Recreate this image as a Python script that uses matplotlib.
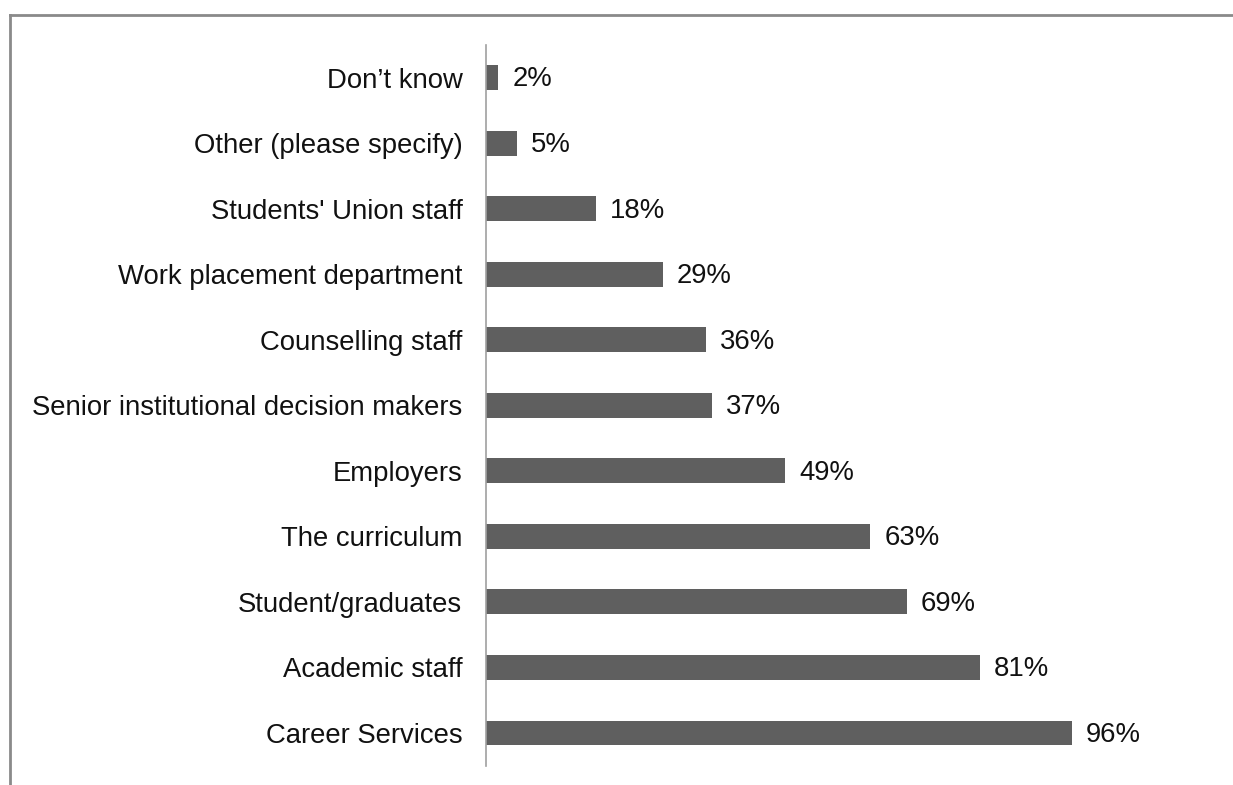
import matplotlib.pyplot as plt
from matplotlib.lines import Line2D

# survey responses, top to bottom as listed
categories = ["Don\u2019t know", "Other (please specify)", "Students' Union staff",
              "Work placement department", "Counselling staff",
              "Senior institutional decision makers", "Employers",
              "The curriculum", "Student/graduates", "Academic staff",
              "Career Services"]
percent = [2, 5, 18, 29, 36, 37, 49, 63, 69, 81, 96]

plt.rcParams['font.family'] = ['Liberation Sans', 'DejaVu Sans']

fig = plt.figure(figsize=(12.33, 7.85), dpi=100)
ax = fig.add_axes([486 / 1233, 19.25 / 785, (1096 - 486) / 1233, 721 / 785])

ypos = list(range(len(categories)))
ax.barh(ypos, percent, height=0.38, color='#5f5f5f')
ax.set_ylim(len(categories) - 0.5, -0.5)
ax.set_xlim(0, 100)

ax.set_yticks(ypos)
ax.set_yticklabels(categories, fontsize=19.8, color='#111111')
ax.tick_params(axis='y', length=0, pad=17)
ax.set_xticks([])

for y, v in zip(ypos, percent):
    ax.text(v + 2.3, y + 0.03, f"{v}%", va='center', ha='left',
            fontsize=19.8, color='#111111')

for side in ['top', 'right', 'bottom']:
    ax.spines[side].set_visible(False)
ax.spines['left'].set_color('#a0a0a0')
ax.spines['left'].set_linewidth(1.2)

# outer chart frame, only top and left edges visible
fig.add_artist(Line2D([9.5 / 1233, 1.0], [1 - 14.5 / 785, 1 - 14.5 / 785],
                      transform=fig.transFigure, color='#8a8a8a', lw=2))
fig.add_artist(Line2D([9.5 / 1233, 9.5 / 1233], [0, 1 - 14.5 / 785],
                      transform=fig.transFigure, color='#8a8a8a', lw=2))

fig.savefig('out.png', dpi=100)
